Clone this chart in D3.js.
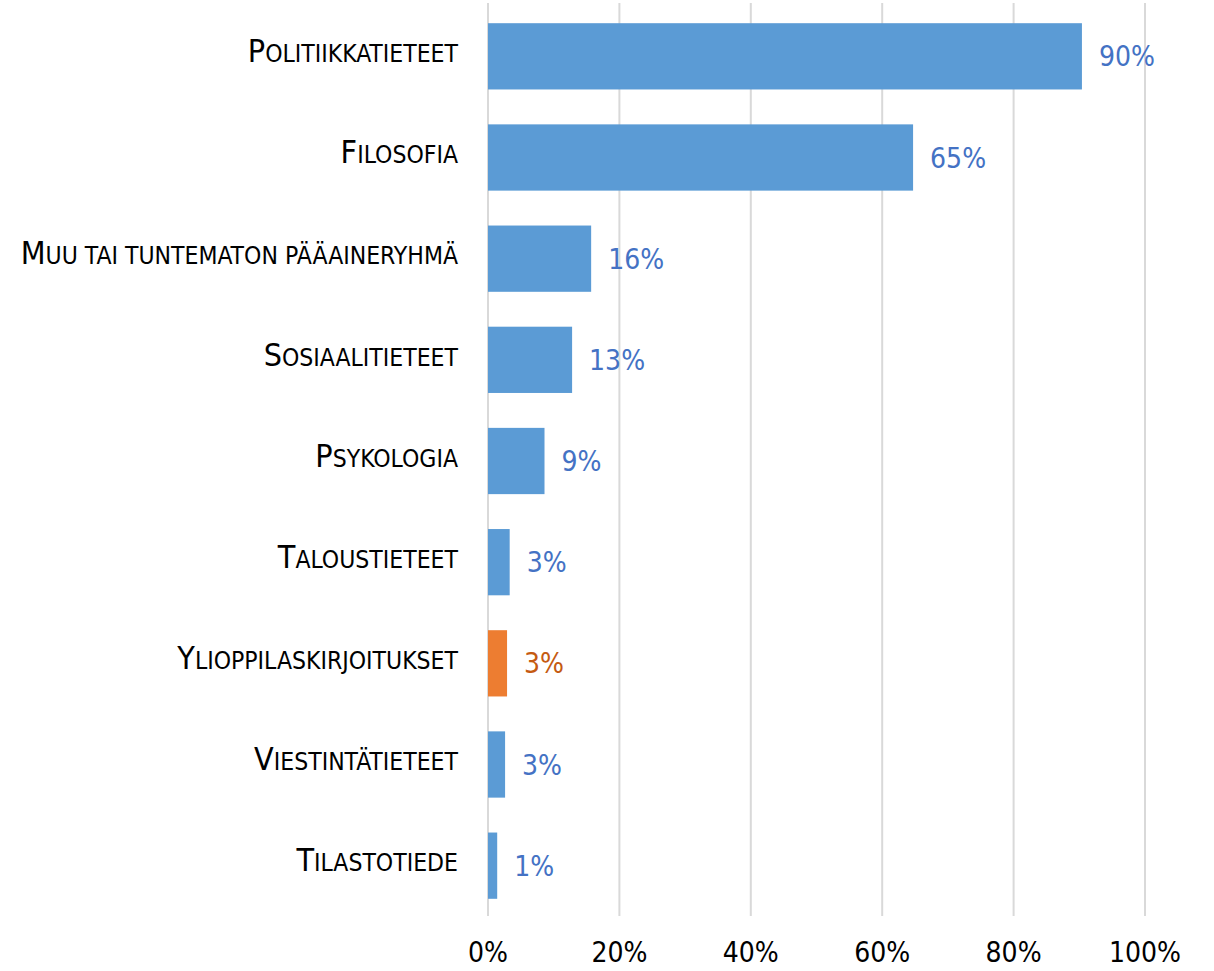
<!DOCTYPE html>
<html>
<head>
<meta charset="utf-8">
<script src="https://cdn.jsdelivr.net/npm/d3@7"></script>
<style>
  body { margin: 0; background: #fff; }
  text { font-family: "Liberation Sans Narrow", "DejaVu Sans Condensed", "Open Sans", sans-serif; }
</style>
</head>
<body>
<div id="chart"></div>
<script>
// data
const categories = ["Politiikkatieteet", "Filosofia", "Muu tai tuntematon pääaineryhmä",
    "Sosiaalitieteet", "Psykologia", "Taloustieteet", "Ylioppilaskirjoitukset",
    "Viestintätieteet", "Tilastotiede"];
const values = [0.904, 0.647, 0.157, 0.128, 0.086, 0.033, 0.029, 0.026, 0.014];
const highlighted = ["Ylioppilaskirjoitukset"];
const tickValues = [0, 0.2, 0.4, 0.6, 0.8, 1.0];

const width = 1214, height = 971;
const margin = {top: 6, right: 69, bottom: 55, left: 488};

const svg = d3.select("#chart").append("svg")
    .attr("width", width)
    .attr("height", height);

const x = d3.scaleLinear()
    .domain([0, 1])
    .range([margin.left, width - margin.right]);

const y = d3.scaleBand()
    .domain(categories)
    .range([margin.top, height - margin.bottom])
    .paddingInner(0.345)
    .paddingOuter(0.17);

const rows = categories.map((c, i) => ({name: c, value: values[i]}));

// gridlines
svg.append("g").selectAll("line")
    .data(tickValues)
    .join("line")
    .attr("x1", d => x(d)).attr("x2", d => x(d))
    .attr("y1", 3).attr("y2", 916)
    .attr("stroke", "#d9d9d9")
    .attr("stroke-width", 2);

// x tick labels
svg.append("g").selectAll("text")
    .data(tickValues)
    .join("text")
    .attr("x", d => x(d))
    .attr("y", 962)
    .attr("text-anchor", "middle")
    .attr("font-size", 28)
    .attr("fill", "#000")
    .text(d3.format(".0%"));

// bars
svg.append("g").selectAll("rect")
    .data(rows)
    .join("rect")
    .attr("x", x(0))
    .attr("y", d => y(d.name))
    .attr("width", d => x(d.value) - x(0))
    .attr("height", y.bandwidth())
    .attr("fill", d => highlighted.includes(d.name) ? "#ED7D31" : "#5B9BD5");

// value labels
svg.append("g").selectAll("text")
    .data(rows)
    .join("text")
    .attr("x", d => x(d.value) + 17)
    .attr("y", d => y(d.name) + y.bandwidth() / 2)
    .attr("dy", "0.36em")
    .attr("font-size", 28)
    .attr("fill", d => highlighted.includes(d.name) ? "#C55A11" : "#4472C4")
    .text(d => d3.format(".0%")(Math.round(d.value * 100) / 100));

// category labels, small caps drawn by hand
const labels = svg.append("g").selectAll("text")
    .data(rows)
    .join("text")
    .attr("x", margin.left - 30)
    .attr("y", d => y(d.name) + y.bandwidth() / 2)
    .attr("dy", "0.36em")
    .attr("text-anchor", "end")
    .attr("fill", "#000");

labels.append("tspan")
    .attr("font-size", 32)
    .text(d => d.name.charAt(0).toUpperCase());
labels.append("tspan")
    .attr("font-size", 24.5)
    .text(d => d.name.slice(1).toUpperCase());
</script>
</body>
</html>
